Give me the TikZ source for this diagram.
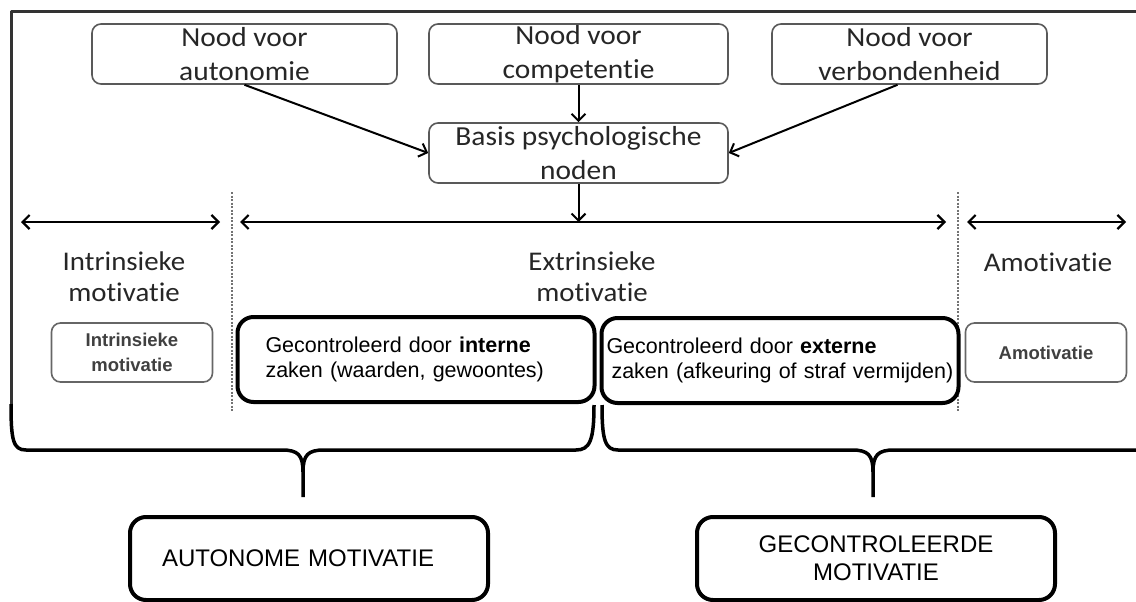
\documentclass[tikz,border=0pt]{standalone}
\usepackage{fontspec}
\setmainfont{Carlito}[FakeStretch=1.07, Ligatures=NoCommon]
\newfontfamily\arialf{Liberation Sans}
\usetikzlibrary{arrows.meta}
\definecolor{txt}{HTML}{262626}
\definecolor{framec}{HTML}{333333}
\begin{document}
\begin{tikzpicture}[x=1pt,y=-1pt,line join=round,
  needbox/.style={draw=black!65, line width=1.6pt, rounded corners=9pt, minimum height=60pt, inner sep=0pt, align=center, text=txt, font=\fontsize{27.5}{34}\selectfont},
  smallbox/.style={draw=black!60, line width=1.6pt, rounded corners=9pt, minimum height=59pt, minimum width=161pt, inner sep=0pt, align=center, text=black!75, font=\arialf\bfseries\fontsize{18.5}{25}\selectfont},
  boldbox/.style={draw=black, line width=4pt, rounded corners=16pt, minimum height=85pt, minimum width=357pt, align=left, text=black, font=\arialf\fontsize{21.5}{25}\selectfont},
  bigbox/.style={draw=black, line width=4pt, rounded corners=16pt, minimum height=83pt, minimum width=358pt, text=black, font=\arialf\fontsize{24}{28}\selectfont},
  conn/.style={line width=2pt, -{Straight Barb[length=7pt,width=14pt]}},
  dbl/.style={line width=2.2pt, {Straight Barb[length=7pt,width=14pt]}-{Straight Barb[length=7pt,width=14pt]}},
  sep/.style={draw=black!55, line width=1.4pt, dash pattern=on 2pt off 1.5pt},
  brace/.style={draw=black, line width=3.5pt},
  lbl/.style={text=txt, align=center, inner sep=0pt, font=\fontsize{27}{31}\selectfont}
]
\useasboundingbox (0,0) rectangle (1136,602);

% frame top and left
\draw[framec, line width=3pt] (1136,12) -- (11,12) -- (11,406);

% top need boxes
\node[needbox, minimum width=305pt] (n1) at (244.5,54) {Nood voor\\autonomie};
\node[needbox, minimum width=299pt] (n2) at (578.5,54) {Nood voor\\competentie};
\node[needbox, minimum width=275pt] (n3) at (909.5,54) {Nood voor\\verbondenheid};
\node[needbox, minimum width=299pt] (basis) at (578.5,153) {Basis psychologische\\noden};

\draw[conn] (n1.south) -- (basis.west);
\draw[conn] (n2.south) -- (basis.north);
\draw[conn] ([xshift=-12pt]n3.south) -- (basis.east);

\coordinate (mid) at (578.5,222);
\draw[conn] (basis.south) -- (mid);

% horizontal double arrows
\coordinate (la) at (21,222);
\coordinate (lb) at (220,222);
\coordinate (ma) at (240,222);
\coordinate (mb) at (946,222);
\coordinate (ra) at (967,222);
\coordinate (rb) at (1126,222);
\draw[dbl] (la) -- (lb);
\draw[dbl] (ma) -- (mb);
\draw[dbl] (ra) -- (rb);

% dashed separators
\coordinate (s1a) at (232,192);
\coordinate (s1b) at (232,411);
\coordinate (s2a) at (958,192);
\coordinate (s2b) at (958,411);
\draw[sep] (s1a) -- (s1b);
\draw[sep] (s2a) -- (s2b);

% labels
\node[lbl] (lint) at (124,277) {Intrinsieke\\motivatie};
\node[lbl] (lext) at (592,277) {Extrinsieke\\motivatie};
\node[lbl] (lamo) at (1048,262) {Amotivatie};

% small boxes
\node[smallbox] (bint) at (132,352.5) {Intrinsieke\\motivatie};
\node[smallbox] (bamo) at (1046,352.5) {Amotivatie};

% bold boxes
\node[boldbox, inner xsep=28pt, text width=301pt] (bin) at (416,359.5)
  {Gecontroleerd door \textbf{interne}\\zaken (waarden, gewoontes)};
\node[boldbox, inner xsep=5pt, text width=347pt] (bex) at (780,360.5)
  {Gecontroleerd door \textbf{externe}\\\hspace*{5pt}zaken (afkeuring of straf vermijden)};

% braces
\coordinate (tipL) at (303,497);
\coordinate (tipR) at (873,497);
\draw[brace] (11,404) .. controls (11,440) and (13,450) .. (26,450) -- (282,450)
  .. controls (298,450) and (303,455) .. (303,472) -- (tipL);
\draw[brace] (303,472) .. controls (303,455) and (308,450) .. (324,450) -- (576,450)
  .. controls (590,450) and (594,440) .. (594,405);
\draw[brace] (602,405) .. controls (602,440) and (605,450) .. (618,450) -- (852,450)
  .. controls (868,450) and (873,455) .. (873,472) -- (tipR);
\draw[brace] (873,472) .. controls (873,455) and (878,450) .. (894,450) -- (1136,450);

% bottom boxes
\node[bigbox, align=left, inner xsep=32pt, text width=294pt] (aut) at (309,558.5) {AUTONOME MOTIVATIE};
\node[bigbox, align=center] (gec) at (876,558.5) {GECONTROLEERDE\\MOTIVATIE};
\end{tikzpicture}
\end{document}
